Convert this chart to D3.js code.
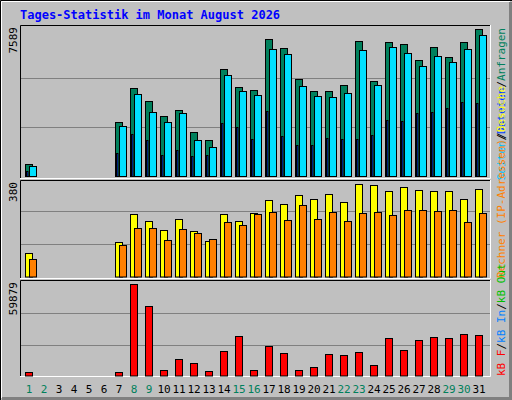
<!DOCTYPE html>
<html>
<head>
<meta charset="utf-8">
<script src="https://cdn.jsdelivr.net/npm/d3@7"></script>
<style>
body { margin: 0; background: #fff; }
svg { display: block; font-family: "DejaVu Sans Mono", monospace; }
</style>
</head>
<body>
<svg width="512" height="400"></svg>
<script>
const days = d3.range(1, 32);
const weekend = [1, 2, 8, 9, 15, 16, 22, 23, 29, 30];
// Anfragen / Seiten / Dateien per day (0 = no data)
const hits = [620,0,0,0,0,0,2788,4543,3872,3098,3407,2271,1858,5524,4595,4440,7073,6608,5008,4388,4388,4698,6970,4904,6918,6815,5989,6660,6144,6918,7589];
const pages = [516,0,0,0,0,0,2581,4233,3304,2788,3252,1858,1497,5214,4388,4181,6557,6298,4646,4130,4078,4285,6505,4698,6660,6350,5679,6195,5885,6557,7279];
const files = [258,0,0,0,0,0,1187,2168,1858,1084,1342,1032,1084,2736,2530,1910,3355,2065,1600,1600,1962,1910,1910,2117,2891,2839,3252,3304,3510,3820,3769];
// Besuche / Rechner
const visits = [90,0,0,0,0,0,132,239,212,178,220,174,136,239,212,243,293,278,312,297,316,285,354,351,328,343,331,328,328,297,335];
const sites = [67,0,0,0,0,0,120,186,186,139,182,166,143,209,197,239,247,216,274,220,247,212,243,247,235,255,255,251,255,209,243];
// kB F
const kbytes = [2185,0,0,0,0,0,2185,59879,45455,3497,10708,8086,2841,15953,25787,3497,19231,14642,3497,5463,13986,13330,15297,6775,24476,16609,23165,25132,24476,27098,26443];
const maxHits = 7589, maxVisits = 380, maxKb = 59879;

const svg = d3.select('svg');
const W = 512, H = 400;

// background and 3d frame
svg.append('rect').attr('width', W).attr('height', H).attr('fill', '#c0c0c0');
svg.append('path').attr('d', `M0.5,${H} V0.5 H${W}`).attr('stroke', '#000').attr('fill', 'none');
svg.append('path').attr('d', `M1.5,${H - 2} V1.5 H${W - 2}`).attr('stroke', '#fff').attr('fill', 'none');
svg.append('path').attr('d', `M${W - 1.5},2 V${H - 1.5} H2`).attr('stroke', '#808080').attr('stroke-width', 3).attr('fill', 'none');

svg.append('text').text('Tages-Statistik im Monat August 2026')
    .attr('x', 20).attr('y', 19).attr('fill', '#0000ff')
    .style('font-size', '12px').style('font-weight', 'bold');

const x = d3.scaleBand().domain(days).range([22, 487]).paddingInner(0);

const panels = [
    { y0: 25, y1: 178, base: 176, top: 29 },
    { y0: 180, y1: 278, base: 276.5, top: 177.5 },
    { y0: 280, y1: 376, base: 375.5, top: 284 },
];

panels.forEach(p => {
    svg.append('path').attr('d', `M20.5,${p.y1} V${p.y0 + 0.5} H490`).attr('stroke', '#000').attr('fill', 'none');
    svg.append('path').attr('d', `M20,${p.y1 + 0.5} H490.5 V${p.y0}`).attr('stroke', '#fff').attr('fill', 'none');
});

function grid(p, fracs) {
    fracs.forEach(f => {
        const yy = Math.round(p.base - (p.base - p.top) * f) + 0.5;
        svg.append('line').attr('x1', 21).attr('x2', 490).attr('y1', yy).attr('y2', yy)
            .attr('stroke', '#808080').attr('stroke-width', 1);
    });
}

function bars(values, p, max, dx, w, color) {
    const y = d3.scaleLinear().domain([0, max]).range([p.base, p.top]);
    svg.append('g').selectAll('rect')
        .data(days.filter((d, i) => values[i] > 0))
        .join('rect')
        .attr('x', d => x(d) + dx + 0.5)
        .attr('y', d => Math.round(y(values[d - 1])) + 0.5)
        .attr('width', w)
        .attr('height', d => p.base - Math.round(y(values[d - 1])))
        .attr('fill', color).attr('stroke', '#000').attr('stroke-width', 1);
}

grid(panels[0], [1 / 3, 2 / 3]);
bars(hits, panels[0], maxHits, 3, 7, '#00805c');
bars(files, panels[0], maxHits, 4, 1.5, '#0040ff');
bars(pages, panels[0], maxHits, 7, 7, '#00e0ff');

grid(panels[1], [1 / 3, 2 / 3]);
bars(visits, panels[1], maxVisits, 3, 7, '#ffff00');
bars(sites, panels[1], maxVisits, 7, 7, '#ff8000');

grid(panels[2], [0.33, 0.68]);
bars(kbytes, panels[2], maxKb, 3, 7, '#ff0000');

// max labels, rotated
[[maxHits, 27], [maxVisits, 182], [maxKb, 282]].forEach(([v, yy]) => {
    svg.append('text').text(v)
        .attr('transform', `translate(17,${yy}) rotate(-90)`)
        .attr('text-anchor', 'end').style('font-size', '11px').attr('fill', '#000');
});

// day labels
svg.append('g').selectAll('text').data(days).join('text')
    .text(d => d)
    .attr('x', d => x(d) + 7)
    .attr('y', 393)
    .attr('text-anchor', 'middle')
    .style('font-size', '11px')
    .attr('fill', d => weekend.includes(d) ? '#00805c' : '#000');

// vertical legends on the right
function legend(parts, yy, anchor) {
    const t = svg.append('text')
        .attr('transform', `translate(505,${yy}) rotate(-90)`)
        .attr('text-anchor', anchor).style('font-size', '11px');
    parts.forEach(([s, c]) => t.append('tspan').text(s).attr('fill', c));
}
legend([['Seiten', '#00c0ff'], ['/', '#000'], ['Dateien', '#0040ff'], ['/', '#000'], ['Anfragen', '#00805c']], 28, 'end');
legend([['Rechner (IP-Adressen)', '#ff8000'], ['/', '#000'], ['Besuche', '#ffff00']], 278, 'start');
legend([['kB F', '#ff0000'], ['/', '#000'], ['kB In', '#0080ff'], ['/', '#000'], ['kB Out', '#00c000']], 376, 'start');
</script>
</body>
</html>
